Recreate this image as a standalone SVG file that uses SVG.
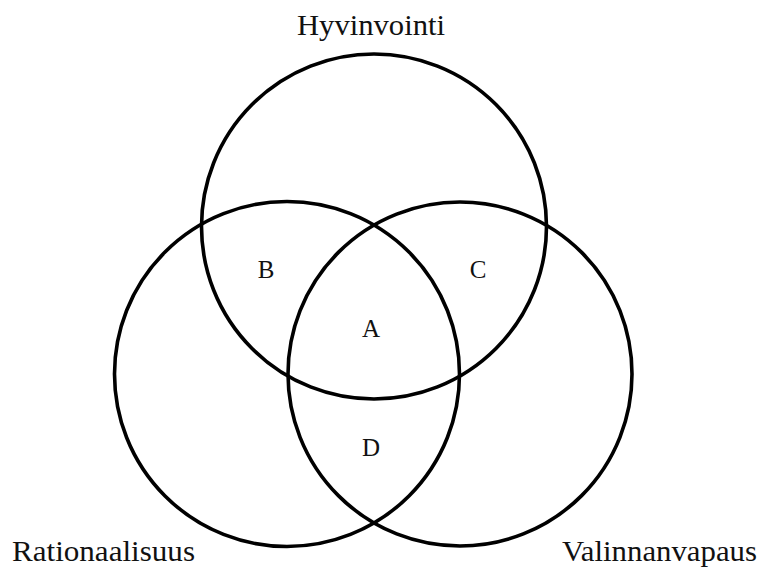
<svg xmlns="http://www.w3.org/2000/svg" width="760" height="568" viewBox="0 0 760 568">
<style>
.c{fill:none;stroke:#000;stroke-width:3.6}
.t{font-family:"Liberation Serif","Times New Roman",serif;fill:#111}
.big{font-size:30px}
.lab{font-size:25px;text-anchor:middle}
</style>
<rect width="760" height="568" fill="#fff"/>
<g id="hyvinvointi">
<circle class="c" cx="374" cy="226.5" r="172.5"/>
<text class="t big" x="371" y="35" text-anchor="middle" textLength="148" lengthAdjust="spacingAndGlyphs">Hyvinvointi</text>
</g>
<g id="rationaalisuus">
<circle class="c" cx="287" cy="374" r="172.5"/>
<text class="t big" x="12" y="561" textLength="183" lengthAdjust="spacingAndGlyphs">Rationaalisuus</text>
</g>
<g id="valinnanvapaus">
<circle class="c" cx="460" cy="374" r="172"/>
<text class="t big" x="562" y="561" textLength="195" lengthAdjust="spacingAndGlyphs">Valinnanvapaus</text>
</g>
<g id="regions">
<text class="t lab" x="266" y="278">B</text>
<text class="t lab" x="478" y="278">C</text>
<text class="t lab" x="371" y="337">A</text>
<text class="t lab" x="371" y="456">D</text>
</g>
<g id="connectors"></g>
</svg>
